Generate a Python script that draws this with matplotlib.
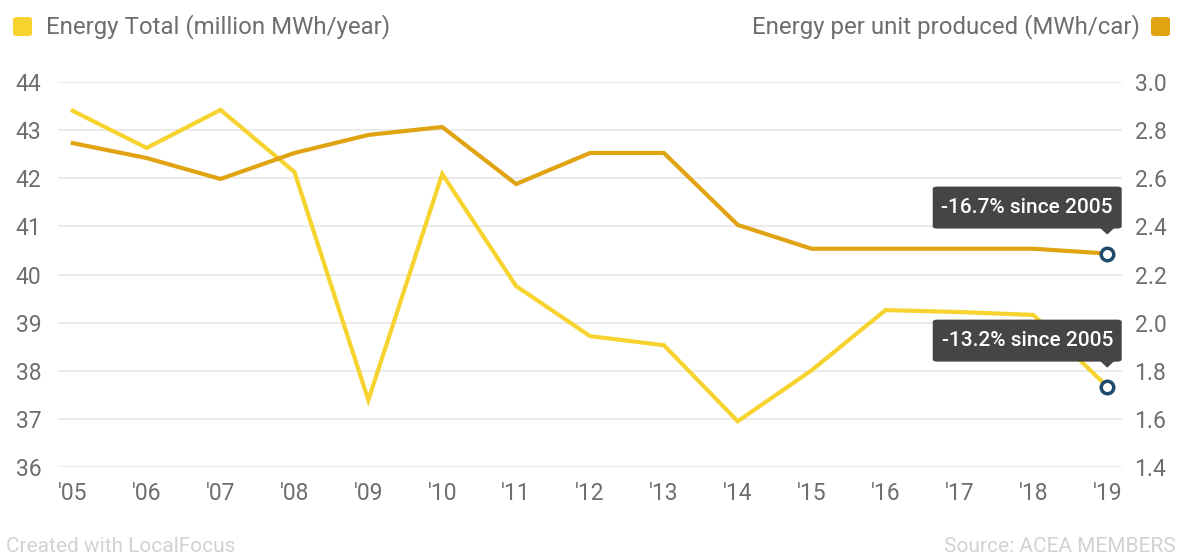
import matplotlib
matplotlib.use("Agg")
import matplotlib.pyplot as plt
from matplotlib.patches import FancyBboxPatch, Polygon

plt.rcParams['font.family'] = ['Roboto', 'DejaVu Sans']

years = list(range(2005, 2020))
tick_labels = ["'05", "'06", "'07", "'08", "'09", "'10", "'11", "'12", "'13",
               "'14", "'15", "'16", "'17", "'18", "'19"]
energy_total = [43.40, 42.63, 43.42, 42.13, 37.39, 42.09, 39.76, 38.72, 38.53,
                36.95, 38.01, 39.26, 39.22, 39.16, 37.67]
energy_per_unit = [2.746, 2.684, 2.597, 2.705, 2.78, 2.813, 2.576, 2.705, 2.705,
                   2.406, 2.307, 2.307, 2.307, 2.307, 2.287]
left_ticks = [36, 37, 38, 39, 40, 41, 42, 43, 44]
right_ticks = [1.4, 1.6, 1.8, 2.0, 2.2, 2.4, 2.6, 2.8, 3.0]

YELLOW = "#F6D32E"
ORANGE = "#E0A312"
GRID = "#EBEBEB"
TICK = "#6E6E6E"
MARK = "#1E4A6B"

fig = plt.figure(figsize=(11.84, 5.58), dpi=100)
ax = fig.add_axes([58 / 1184, 1 - 467 / 558, (1122 - 58) / 1184, (467 - 82) / 558])
ax2 = ax.twinx()

ax.set_xlim(2004.80, 2019.20)
ax.set_ylim(36, 44)
ax2.set_ylim(1.4, 3.0)

ax.set_yticks(left_ticks)
ax.set_yticklabels([str(t) for t in left_ticks])
ax2.set_yticks(right_ticks)
ax2.set_yticklabels([f"{t:.1f}" for t in right_ticks])
ax.set_xticks(years)
ax.set_xticklabels(tick_labels)

for a in (ax, ax2):
    for s in a.spines.values():
        s.set_visible(False)
    a.tick_params(length=0, labelsize=16.5, colors=TICK)
ax.tick_params(axis='y', pad=12)
ax2.tick_params(axis='y', pad=9)
ax.tick_params(axis='x', pad=11)
ax.grid(axis='y', color=GRID, linewidth=1.5)
ax.set_axisbelow(True)

ax.plot(years, energy_total, color=YELLOW, linewidth=3, solid_joinstyle='miter', zorder=3)
ax2.plot(years, energy_per_unit, color=ORANGE, linewidth=3, solid_joinstyle='miter', zorder=3)

# end-point markers
ax.plot([years[-1]], [energy_total[-1]], 'o', ms=9, mfc='white', mec=MARK, mew=2.5, zorder=5)
ax2.plot([years[-1]], [energy_per_unit[-1]], 'o', ms=9, mfc='white', mec=MARK, mew=2.5, zorder=5)

fw, fh = 1184, 558


def tooltip(axis, x, y, text):
    disp = axis.transData.transform((x, y))
    tip = (disp[0], disp[1] + 19)
    w, h = 189, 42
    cx = tip[0] - 80
    bx0, by0 = cx - w / 2, tip[1] + 6
    box = FancyBboxPatch((bx0 / fw, by0 / fh), w / fw, h / fh,
                         boxstyle="round,pad=0,rounding_size=0.004",
                         transform=fig.transFigure, facecolor="#454545",
                         edgecolor='none', zorder=6)
    fig.patches.append(box)
    tri = Polygon([((tip[0] - 7) / fw, (by0 + 0.5) / fh),
                   ((tip[0] + 7) / fw, (by0 + 0.5) / fh),
                   (tip[0] / fw, tip[1] / fh)],
                  closed=True, transform=fig.transFigure,
                  facecolor="#454545", edgecolor='none', zorder=6)
    fig.patches.append(tri)
    fig.text((bx0 + w / 2) / fw, (by0 + h / 2) / fh, text, color='white',
             fontsize=15, fontweight='medium', ha='center', va='center', zorder=7)


fig.canvas.draw()
tooltip(ax2, years[-1], energy_per_unit[-1], "-16.7% since 2005")
tooltip(ax, years[-1], energy_total[-1], "-13.2% since 2005")

# legend
fig.patches.append(FancyBboxPatch((13 / fw, 1 - 36 / fh), 19 / fw, 19 / fh,
                                  boxstyle="round,pad=0,rounding_size=0.004",
                                  transform=fig.transFigure, facecolor=YELLOW,
                                  edgecolor='none'))
fig.text(46 / fw, 1 - 27 / fh, "Energy Total (million MWh/year)", fontsize=17.3,
         color=TICK, ha='left', va='center')
fig.patches.append(FancyBboxPatch((1151 / fw, 1 - 36 / fh), 19 / fw, 19 / fh,
                                  boxstyle="round,pad=0,rounding_size=0.004",
                                  transform=fig.transFigure, facecolor=ORANGE,
                                  edgecolor='none'))
fig.text(1140 / fw, 1 - 27 / fh, "Energy per unit produced (MWh/car)", fontsize=17.3,
         color=TICK, ha='right', va='center')

# footer
fig.text(6 / fw, 1 - 546 / fh, "Created with LocalFocus", fontsize=15,
         color="#D2D2D2", ha='left', va='center')
fig.text(1176 / fw, 1 - 546 / fh, "Source: ACEA MEMBERS", fontsize=15,
         color="#D2D2D2", ha='right', va='center')

fig.savefig("out.png", dpi=100, facecolor='white')
